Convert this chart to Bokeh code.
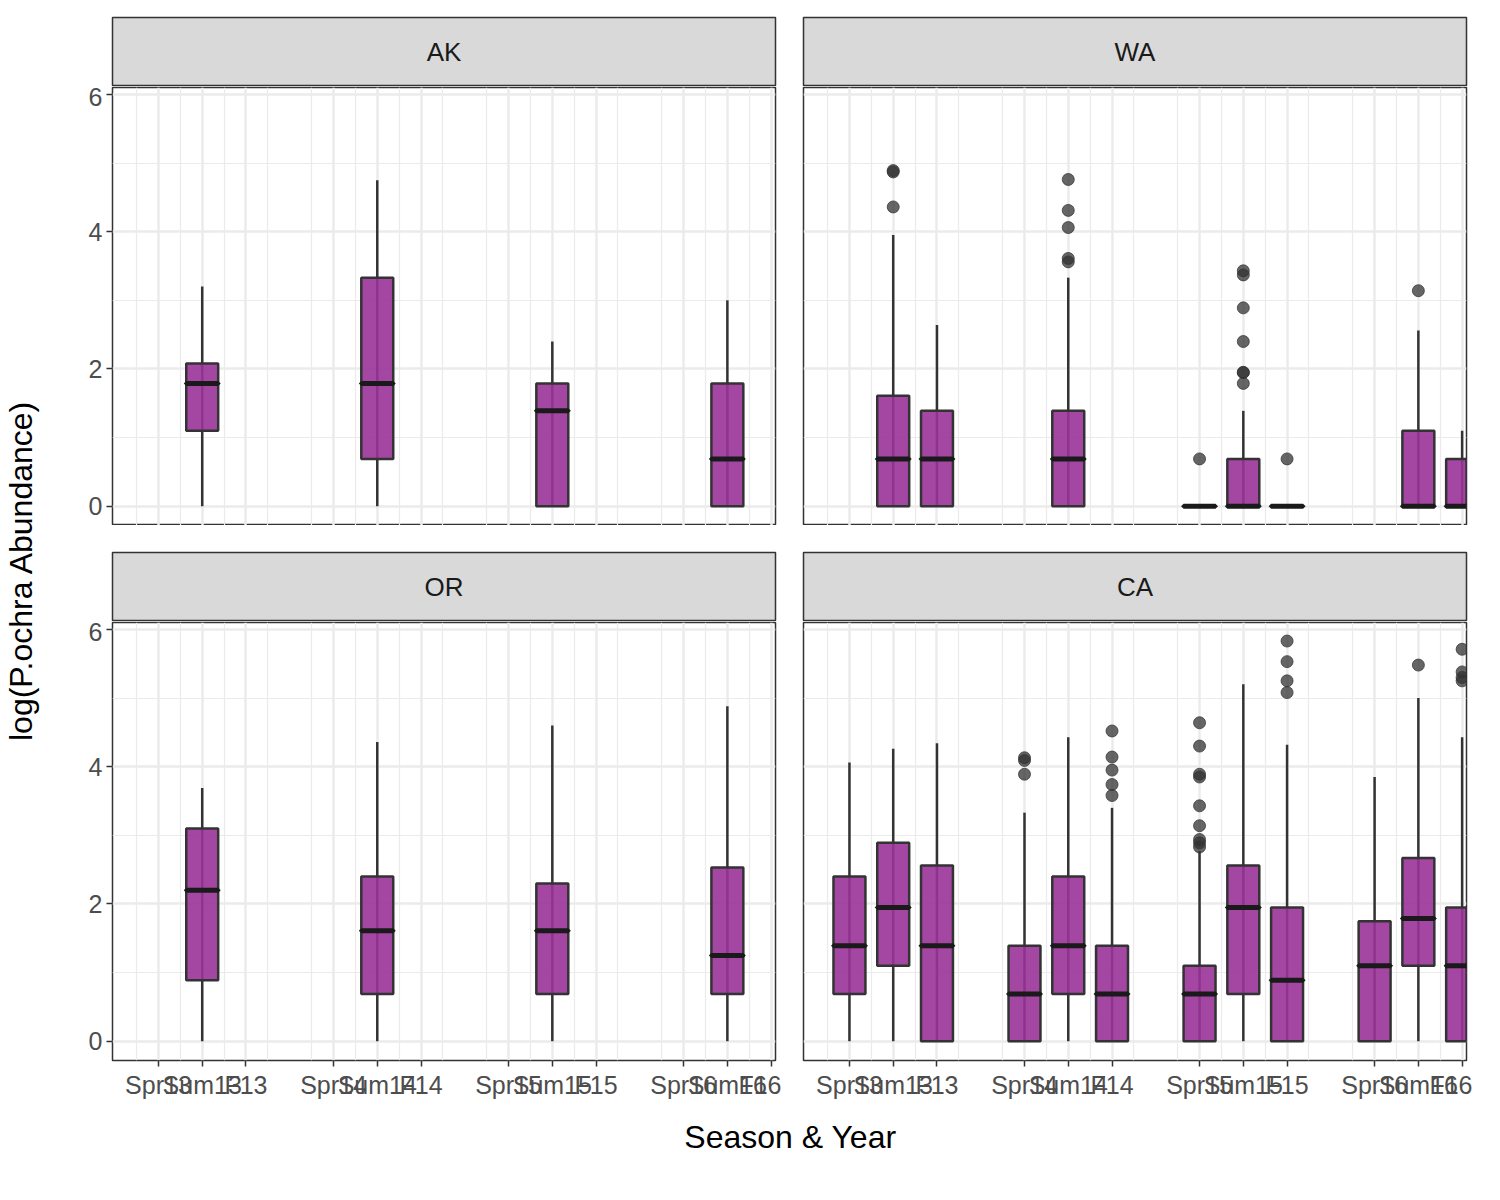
import numpy as np
from bokeh.plotting import figure
from bokeh.layouts import column, row
from bokeh.models import FixedTicker, ColumnDataSource
from bokeh.embed import file_html
from bokeh.resources import INLINE
from bokeh.core.properties import value

tick_pos = [1, 2, 3, 5, 6, 7, 9, 10, 11, 13, 14, 15]
tick_labels = ["Spr13", "Sum13", "F13", "Spr14", "Sum14", "F14",
               "Spr15", "Sum15", "F15", "Spr16", "Sum16", "F16"]
# x, low whisker, q1, median, q3, high whisker, outliers
AK = [(2, 0, 1.1, 1.79, 2.08, 3.2, []), (6, 0, 0.69, 1.79, 3.33, 4.75, []),
      (10, 0, 0, 1.39, 1.79, 2.4, []), (14, 0, 0, 0.69, 1.79, 3.0, [])]
WA = [(2, 0, 0, 0.69, 1.61, 3.95, [4.36, 4.87, 4.89]),
      (3, 0, 0, 0.69, 1.39, 2.64, []),
      (6, 0, 0, 0.69, 1.39, 3.33, [3.56, 3.61, 4.06, 4.31, 4.76]),
      (9, 0, 0, 0, 0, 0, [0.69]),
      (10, 0, 0, 0, 0.69, 1.39, [1.79, 1.95, 1.95, 2.4, 2.89, 3.37, 3.43]),
      (11, 0, 0, 0, 0, 0, [0.69]),
      (14, 0, 0, 0, 1.1, 2.56, [3.14]),
      (15, 0, 0, 0, 0.69, 1.1, [])]
OR = [(2, 0, 0.89, 2.2, 3.1, 3.69, []), (6, 0, 0.69, 1.61, 2.4, 4.36, []),
      (10, 0, 0.69, 1.61, 2.3, 4.6, []), (14, 0, 0.69, 1.25, 2.53, 4.88, [])]
CA = [(1, 0, 0.69, 1.39, 2.4, 4.06, []), (2, 0, 1.1, 1.95, 2.89, 4.26, []),
      (3, 0, 0, 1.39, 2.56, 4.34, []),
      (5, 0, 0, 0.69, 1.39, 3.33, [3.89, 4.09, 4.13]),
      (6, 0, 0.69, 1.39, 2.4, 4.43, []),
      (7, 0, 0, 0.69, 1.39, 3.4, [3.58, 3.74, 3.95, 4.14, 4.52]),
      (9, 0, 0, 0.69, 1.1, 2.77, [2.83, 2.89, 2.94, 3.14, 3.43, 3.85, 3.89, 4.3, 4.64]),
      (10, 0, 0.69, 1.95, 2.56, 5.2, []),
      (11, 0, 0, 0.89, 1.95, 4.32, [5.08, 5.25, 5.53, 5.83]),
      (13, 0, 0, 1.1, 1.75, 3.85, []),
      (14, 0, 1.1, 1.79, 2.67, 5.0, [5.48]),
      (15, 0, 0, 1.1, 1.95, 4.43, [5.25, 5.3, 5.38, 5.71])]

FW, FH = 663, 438
minor_x = [0.5, 1.5, 2.5, 3.5, 4.5, 5.5, 6.5, 7.5, 8.5, 9.5, 10.5, 11.5, 12.5, 13.5, 14.5]

def strip(name, left, top_pad):
    bl = 72 if left else 22
    s = figure(width=bl + FW + 6, height=top_pad + 68 + 2, output_backend="svg",
               toolbar_location=None, x_range=(0, 1), y_range=(0, 1),
               min_border_left=bl, min_border_right=6, min_border_top=top_pad,
               min_border_bottom=2)
    s.background_fill_color = "#d9d9d9"
    s.outline_line_color = "#333333"
    s.outline_line_width = 1.5
    s.axis.visible = False
    s.grid.visible = False
    s.text([0.5], [0.5], text=[name], text_align="center", text_baseline="middle",
           text_font_size="26px", text_font=value("Liberation Sans"), text_color="#1a1a1a")
    return s

def panel(data, left, bottom):
    bl = 72 if left else 22
    bb = 56 if bottom else 0
    p = figure(width=bl + FW + 6, height=FH + bb, output_backend="svg",
               toolbar_location=None, x_range=(-0.05, 15.1), y_range=(-0.28, 6.1),
               min_border_left=bl, min_border_right=6, min_border_bottom=bb,
               min_border_top=0)
    p.outline_line_color = "#333333"
    p.outline_line_width = 1.5
    p.xaxis.ticker = FixedTicker(ticks=tick_pos, minor_ticks=minor_x)
    p.xaxis.major_label_overrides = {t_: l for t_, l in zip(tick_pos, tick_labels)}
    p.yaxis.ticker = FixedTicker(ticks=[0, 2, 4, 6], minor_ticks=[1, 3, 5])
    for ax in (p.xaxis[0], p.yaxis[0]):
        ax.major_label_text_font_size = "25px"
        ax.major_label_text_color = "#4d4d4d"
        ax.major_label_text_font = "Liberation Sans"
        ax.axis_line_color = None
        ax.minor_tick_line_color = None
        ax.major_tick_line_color = "#333333"
        ax.major_tick_line_width = 1.5
        ax.major_tick_in = 0
        ax.major_tick_out = 6
        ax.major_label_standoff = 4
    p.xaxis.visible = bottom
    p.yaxis.visible = left
    p.xgrid.ticker = FixedTicker(ticks=tick_pos, minor_ticks=minor_x)
    p.ygrid.ticker = FixedTicker(ticks=[0, 2, 4, 6], minor_ticks=[1, 3, 5])
    for g in (p.xgrid[0], p.ygrid[0]):
        g.grid_line_color = "#ebebeb"
        g.grid_line_width = 2.5
        g.minor_grid_line_color = "#ebebeb"
        g.minor_grid_line_width = 1.2
    xs = [d[0] for d in data]
    src = ColumnDataSource(dict(x=xs, lo=[d[1] for d in data], q1=[d[2] for d in data],
                                med=[d[3] for d in data], q3=[d[4] for d in data],
                                hi=[d[5] for d in data]))
    p.segment("x", "lo", "x", "hi", source=src, line_color="#333333", line_width=2.5)
    p.vbar(x="x", width=0.73, bottom="q1", top="q3", source=src,
           fill_color="#993399", fill_alpha=0.9, line_color="#333333", line_width=2.5)
    p.rect(x="x", y="med", width=0.73, height=0.0001, source=src,
           line_color="#1a1a1a", line_width=5)
    ox = [d[0] for d in data for _ in d[6]]
    oy = [v for d in data for v in d[6]]
    p.scatter(ox, oy, size=12, color="#333333", alpha=0.75)
    return p

colL = column(strip("AK", True, 17), panel(AK, True, False),
              strip("OR", True, 27), panel(OR, True, True), spacing=0)
colR = column(strip("WA", False, 17), panel(WA, False, False),
              strip("CA", False, 27), panel(CA, False, True), spacing=0)

H = 17 + 70 + FH + 27 + 70 + FH + 56
ylab = figure(width=40, height=H, output_backend="svg", toolbar_location=None,
              x_range=(0, 1), y_range=(0, H), min_border=0)
ylab.text([0.5], [H - 570], text=["log(P.ochra Abundance)"], angle=np.pi / 2,
          text_align="center", text_baseline="middle", text_font_size="32px",
          text_font=value("Liberation Sans"), text_color="black")
ylab.axis.visible = False
ylab.grid.visible = False
ylab.outline_line_color = None

W = 40 + colL.children[0].width + colR.children[0].width
xlab = figure(width=W, height=50, output_backend="svg", toolbar_location=None,
              x_range=(0, W), y_range=(0, 50), min_border=0)
xlab.text([790], [30], text=["Season & Year"],
          text_align="center", text_baseline="middle", text_font_size="32px",
          text_font=value("Liberation Sans"), text_color="black")
xlab.axis.visible = False
xlab.grid.visible = False
xlab.outline_line_color = None

layout = column(row(ylab, colL, colR, spacing=0), xlab, spacing=0)
open("out.html", "w").write(file_html(layout, INLINE))
